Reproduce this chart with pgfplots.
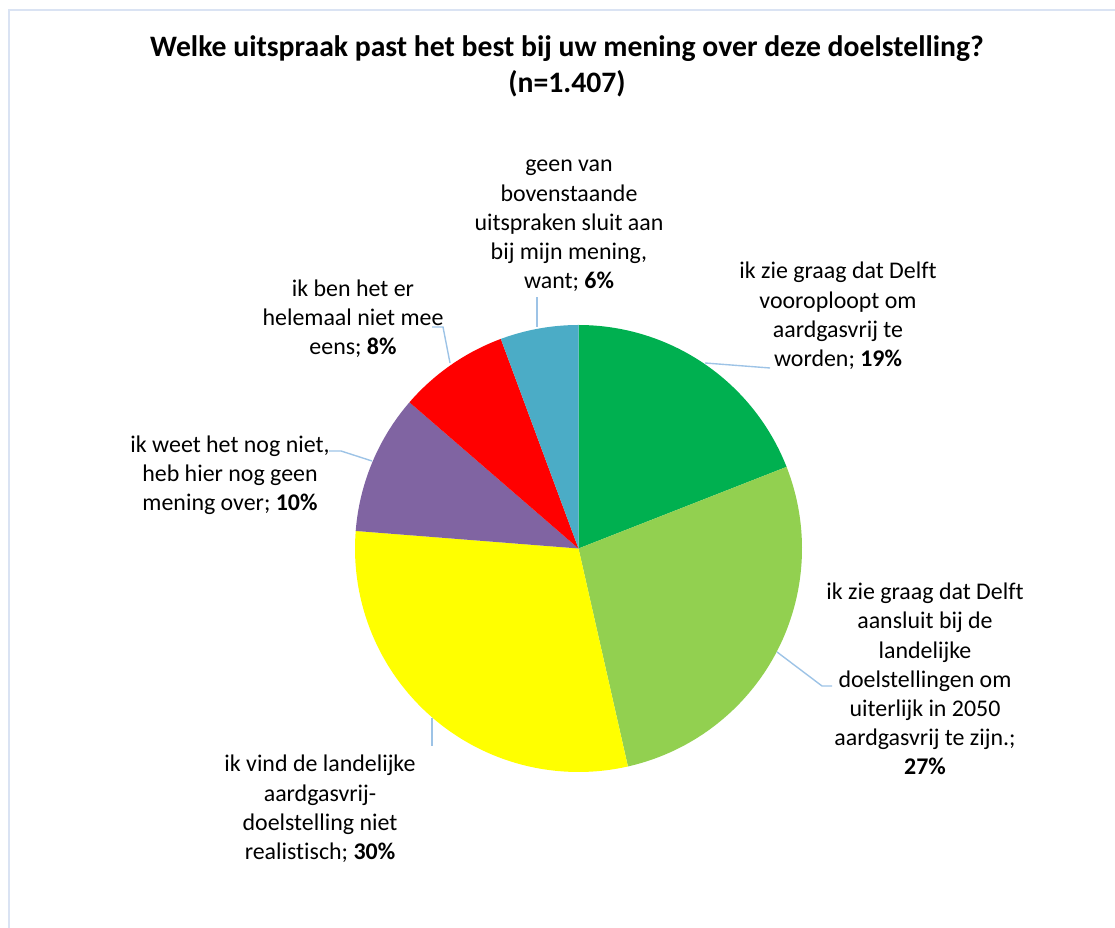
\documentclass[border=0pt]{standalone}
\usepackage{fontspec}
\setmainfont{Carlito}[Ligatures=NoCommon]
\usepackage{pgfplots}
\usepackage{pgfplotstable}
\pgfplotsset{compat=1.18}

\definecolor{cgreen}{RGB}{0,176,80}
\definecolor{clgreen}{RGB}{146,208,80}
\definecolor{cyellow}{RGB}{255,255,0}
\definecolor{cpurple}{RGB}{128,100,162}
\definecolor{cred}{RGB}{255,0,0}
\definecolor{cblue}{RGB}{75,172,198}
\definecolor{leadcol}{RGB}{157,195,230}
\definecolor{framecol}{RGB}{218,227,243}

% shares of the answers (in %), clockwise from the top
\pgfplotstableread{
share
19.05
27.40
29.80
10.10
8.00
5.65
}\piedata

\pgfplotstablegetelem{0}{share}\of\piedata \let\pA\pgfplotsretval
\pgfplotstablegetelem{1}{share}\of\piedata \let\pB\pgfplotsretval
\pgfplotstablegetelem{2}{share}\of\piedata \let\pC\pgfplotsretval
\pgfplotstablegetelem{3}{share}\of\piedata \let\pD\pgfplotsretval
\pgfplotstablegetelem{4}{share}\of\piedata \let\pE\pgfplotsretval
\pgfplotstablegetelem{5}{share}\of\piedata \let\pF\pgfplotsretval

\pgfmathsetmacro\aA{90}
\pgfmathsetmacro\aB{\aA-3.6*\pA}
\pgfmathsetmacro\aC{\aB-3.6*\pB}
\pgfmathsetmacro\aD{\aC-3.6*\pC}
\pgfmathsetmacro\aE{\aD-3.6*\pD}
\pgfmathsetmacro\aF{\aE-3.6*\pE}
\pgfmathsetmacro\aG{\aF-3.6*\pF}

\def\cx{578.5}
\def\cy{379.5}
\def\rr{223.5}

\begin{document}
\begin{tikzpicture}
\useasboundingbox (0,0) rectangle (1115bp,928bp);
\begin{axis}[
  hide axis, scale only axis,
  width=1115bp, height=928bp,
  xmin=0, xmax=1115, ymin=0, ymax=928,
  at={(0,0)}, anchor=origin, clip=false,
]
\draw[framecol, line width=1.3pt] (axis cs:9,0) -- (axis cs:9,918) -- (axis cs:1115,918);

\addplot[draw=none, fill=cgreen, domain=\aB:\aA, samples=90, variable=\t]
  ({\cx+\rr*cos(\t)},{\cy+\rr*sin(\t)}) -- (axis cs:\cx,\cy) -- cycle;
\addplot[draw=none, fill=clgreen, domain=\aC:\aB, samples=90, variable=\t]
  ({\cx+\rr*cos(\t)},{\cy+\rr*sin(\t)}) -- (axis cs:\cx,\cy) -- cycle;
\addplot[draw=none, fill=cyellow, domain=\aD:\aC, samples=90, variable=\t]
  ({\cx+\rr*cos(\t)},{\cy+\rr*sin(\t)}) -- (axis cs:\cx,\cy) -- cycle;
\addplot[draw=none, fill=cpurple, domain=\aE:\aD, samples=60, variable=\t]
  ({\cx+\rr*cos(\t)},{\cy+\rr*sin(\t)}) -- (axis cs:\cx,\cy) -- cycle;
\addplot[draw=none, fill=cred, domain=\aF:\aE, samples=60, variable=\t]
  ({\cx+\rr*cos(\t)},{\cy+\rr*sin(\t)}) -- (axis cs:\cx,\cy) -- cycle;
\addplot[draw=none, fill=cblue, domain=\aG:\aF, samples=60, variable=\t]
  ({\cx+\rr*cos(\t)},{\cy+\rr*sin(\t)}) -- (axis cs:\cx,\cy) -- cycle;

% leader lines
\begin{scope}[leadcol, line width=1.4pt]
\draw (axis cs:537,601) -- (axis cs:537,631);
\draw (axis cs:450,565) -- (axis cs:443,601) -- (axis cs:432,601);
\draw (axis cs:705,565) -- (axis cs:770,560);
\draw (axis cs:372,467) -- (axis cs:341,477) -- (axis cs:329,477);
\draw (axis cs:777,276) -- (axis cs:822,242) -- (axis cs:832,242);
\draw (axis cs:432,210) -- (axis cs:432,182);
\end{scope}

% title
\node[font=\bfseries\fontsize{29.8}{36}\selectfont, align=center]
  at (axis cs:567,862) {Welke uitspraak past het best bij uw mening over deze doelstelling?\\(n=1.407)};

% labels
\begin{scope}[every node/.style={font=\fontsize{24}{29.3}\selectfont, align=center, inner sep=0pt}]
\node at (axis cs:569,702) {geen van\\bovenstaande\\uitspraken sluit aan\\bij mijn mening,\\want; \textbf{6\%}};
\node at (axis cs:838,612) {ik zie graag dat Delft\\vooroploopt om\\aardgasvrij te\\worden; \textbf{19\%}};
\node at (axis cs:353,609.5) {ik ben het er\\helemaal niet mee\\eens; \textbf{8\%}};
\node at (axis cs:230,452.5) {ik weet het nog niet,\\heb hier nog geen\\mening over; \textbf{10\%}};
\node at (axis cs:925,249) {ik zie graag dat Delft\\aansluit bij de\\landelijke\\doelstellingen om\\uiterlijk in 2050\\aardgasvrij te zijn.;\\\textbf{27\%}};
\node at (axis cs:320,119) {ik vind de landelijke\\aardgasvrij-\\doelstelling niet\\realistisch; \textbf{30\%}};
\end{scope}
\end{axis}
\end{tikzpicture}
\end{document}
